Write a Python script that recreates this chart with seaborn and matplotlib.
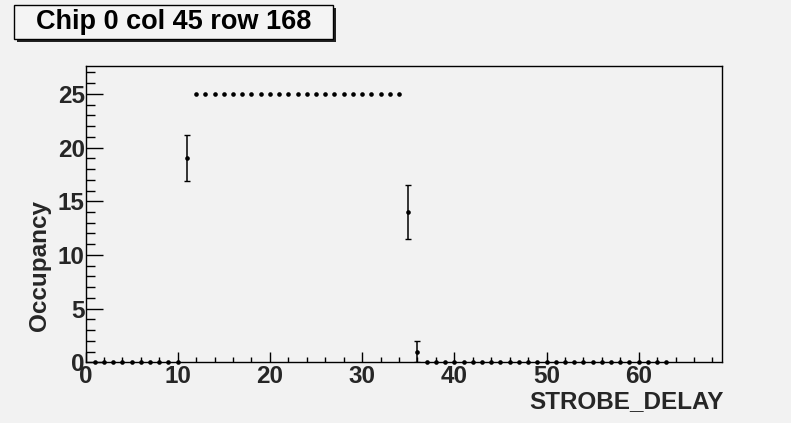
import matplotlib
matplotlib.use("Agg")
import matplotlib.pyplot as plt
from matplotlib.patches import Rectangle
from matplotlib.ticker import MultipleLocator
import seaborn as sns
import pandas as pd

# Occupancy per STROBE_DELAY bin
strobe_delay = [1, 2, 3, 4, 5, 6, 7, 8, 9, 10,
                11, 12, 13, 14, 15, 16, 17, 18, 19, 20,
                21, 22, 23, 24, 25, 26, 27, 28, 29, 30,
                31, 32, 33, 34, 35, 36, 37, 38, 39, 40,
                41, 42, 43, 44, 45, 46, 47, 48, 49, 50,
                51, 52, 53, 54, 55, 56, 57, 58, 59, 60,
                61, 62, 63]
occupancy = [0, 0, 0, 0, 0, 0, 0, 0, 0, 0,
             19, 25, 25, 25, 25, 25, 25, 25, 25, 25,
             25, 25, 25, 25, 25, 25, 25, 25, 25, 25,
             25, 25, 25, 25, 14, 1, 0, 0, 0, 0,
             0, 0, 0, 0, 0, 0, 0, 0, 0, 0,
             0, 0, 0, 0, 0, 0, 0, 0, 0, 0,
             0, 0, 0]
# bins that carry a visible error bar
err_x = [11, 35, 36]
err_y = [19, 14, 1]
err_val = [2.15, 2.5, 0.95]

title_text = "Chip 0 col 45 row 168"
x_title = "STROBE_DELAY"
y_title = "Occupancy"

sns.set_theme(style="ticks")
bg = "#f2f2f2"
plt.rcParams["font.family"] = ["Liberation Sans", "DejaVu Sans"]
plt.rcParams["font.weight"] = "bold"

W, H = 791, 423
fig = plt.figure(figsize=(W / 100, H / 100), dpi=100, facecolor=bg)
ax_l, ax_r, ax_t, ax_b = 85.5, 721.7, 66.0, 362.3
ax = fig.add_axes([ax_l / W, 1 - ax_b / H, (ax_r - ax_l) / W, (ax_b - ax_t) / H])
ax.set_facecolor(bg)

df = pd.DataFrame({"delay": strobe_delay, "occ": occupancy})
sns.scatterplot(data=df, x="delay", y="occ", ax=ax, color="black", s=11,
                edgecolor="black", linewidth=0, zorder=4, clip_on=False)
ax.errorbar(err_x, err_y, yerr=err_val, fmt="none", ecolor="black",
            elinewidth=1.1, capsize=2.2, capthick=1.0, zorder=3)

ax.set_xlim(0, 69)
ax.set_ylim(0, 27.6)
ax.xaxis.set_major_locator(MultipleLocator(10))
ax.xaxis.set_minor_locator(MultipleLocator(2))
ax.yaxis.set_major_locator(MultipleLocator(5))
ax.yaxis.set_minor_locator(MultipleLocator(1))

for s in ax.spines.values():
    s.set_color("black")
    s.set_linewidth(1.0)
tick_fs = 17.5
ax.tick_params(axis="x", which="major", direction="in", length=7.2, width=1.0,
               color="black", labelsize=tick_fs, pad=2, bottom=True, top=False)
ax.tick_params(axis="x", which="minor", direction="in", length=3.6, width=1.0,
               color="black", bottom=True, top=False)
ax.tick_params(axis="y", which="major", direction="in", length=12, width=1.0,
               color="black", labelsize=tick_fs, pad=0.5, left=True, right=False)
ax.tick_params(axis="y", which="minor", direction="in", length=6.5, width=1.0,
               color="black", left=True, right=False)
for lab in ax.get_xticklabels() + ax.get_yticklabels():
    lab.set_fontweight("bold")

ax.set_xlabel(x_title, fontsize=17.5, fontweight="bold", ha="right", va="center")
ax.xaxis.set_label_coords(1.003, (ax_b - 402) / (ax_b - ax_t))
ax.set_ylabel(y_title, fontsize=17.5, fontweight="bold")
ax.yaxis.set_label_coords((51 - ax_l) / (ax_r - ax_l), (ax_b - 265) / (ax_b - ax_t))

# title box with drop shadow
bx0, bx1, by0, by1 = 14, 333, 5, 39
fig.patches.append(Rectangle(((bx0 + 3) / W, 1 - (by1 + 3) / H), (bx1 - bx0) / W, (by1 - by0) / H,
                             transform=fig.transFigure, facecolor="#222222",
                             edgecolor="none", zorder=1))
fig.patches.append(Rectangle((bx0 / W, 1 - by1 / H), (bx1 - bx0) / W, (by1 - by0) / H,
                             transform=fig.transFigure, facecolor="#f4f4f4",
                             edgecolor="black", linewidth=1.0, zorder=2))
fig.text((bx0 + bx1) / 2 / W, 1 - (by0 + by1) / 2 / H, title_text, ha="center",
         va="center", fontsize=19.5, fontweight="bold", color="black", zorder=3)

fig.savefig("out.png", dpi=100, facecolor=bg)
